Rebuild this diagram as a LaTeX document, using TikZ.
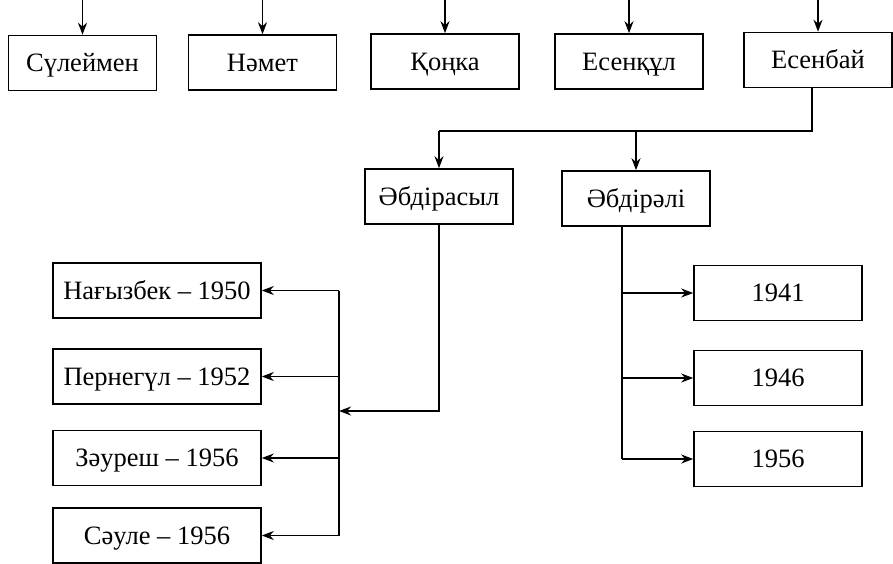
\documentclass[tikz,border=0pt]{standalone}
\usepackage{fontspec}
\setmainfont{Liberation Serif}
\usetikzlibrary{arrows.meta, positioning}

\begin{document}
\begin{tikzpicture}[x=1pt, y=-1pt, line width=1.6pt,
personbox/.style={rectangle, draw, font=\fontsize{26.5}{30}\selectfont, inner sep=0pt,
  text height=17.5pt, text depth=0pt, minimum height=55pt},
arr/.style={-{Stealth[length=12pt,width=9pt]}}]
\tikzstyle{widebox}=[personbox, minimum width=208pt]
\tikzstyle{yearbox}=[personbox, minimum width=168pt]
      \def\fw{148pt}
\useasboundingbox (0,0) rectangle (893,563);
\coordinate (top) at (0,0);
%top row
\node[personbox, minimum width=\fw] (suleimen) at (82.5,63)  {Сүлеймен};
\node[personbox, minimum width=\fw] (namet)    at (262.5,62.5) {Нәмет};
\node[personbox, minimum width=\fw] (qonqa)    at (445,61.5) {Қоңка};
\node[personbox, minimum width=\fw] (esenqul)  at (629,61.5) {Есенқұл};
\node[personbox, minimum width=\fw] (esenbai)  at (818,60)   {Есенбай};
\foreach \n in {suleimen, namet, qonqa, esenqul, esenbai}
  \draw[arr] (\n.north |- top) -- (\n.north);
%sons
\node[personbox, minimum width=\fw] (abdirasyl) at (439,196.5) {Әбдірасыл};
\node[personbox, minimum width=\fw] (abdirali)  at (636,198.5) {Әбдірәлі};
\coordinate (fork) at (812,131);
\draw (fork |- esenbai.south) -- (fork) -- (fork -| abdirasyl.north);
\draw[arr] (fork -| abdirasyl.north) -- (abdirasyl.north);
\draw[arr] (fork -| abdirali.north) -- (abdirali.north);
%children of Abdirasyl
\node[widebox] (nagyzbek) at (157,290.5) {Нағызбек – 1950};
\node[widebox] (pernegul) at (157,376.5) {Пернегүл – 1952};
\node[widebox] (zauresh)  at (157,458)   {Зәуреш – 1956};
\node[widebox] (saule)    at (157,535.5) {Сәуле – 1956};
\coordinate (lbus) at (339,411);
\draw[arr] (abdirasyl.south) |- (lbus);
\draw (nagyzbek.east -| lbus) -- (saule.east -| lbus);
\foreach \n in {nagyzbek, pernegul, zauresh, saule}
  \draw[arr] (\n.east -| lbus) -- (\n.east);
%children of Abdirali
\node[yearbox] (y41) at (778,293) {1941};
\node[yearbox] (y46) at (778,378) {1946};
\node[yearbox] (y56) at (778,459) {1956};
\coordinate (rbus) at (622,459);
\draw (rbus |- abdirali.south) -- (rbus);
\foreach \n in {y41, y46, y56}
  \draw[arr] (\n.west -| rbus) -- (\n.west);
\end{tikzpicture}
\end{document}
